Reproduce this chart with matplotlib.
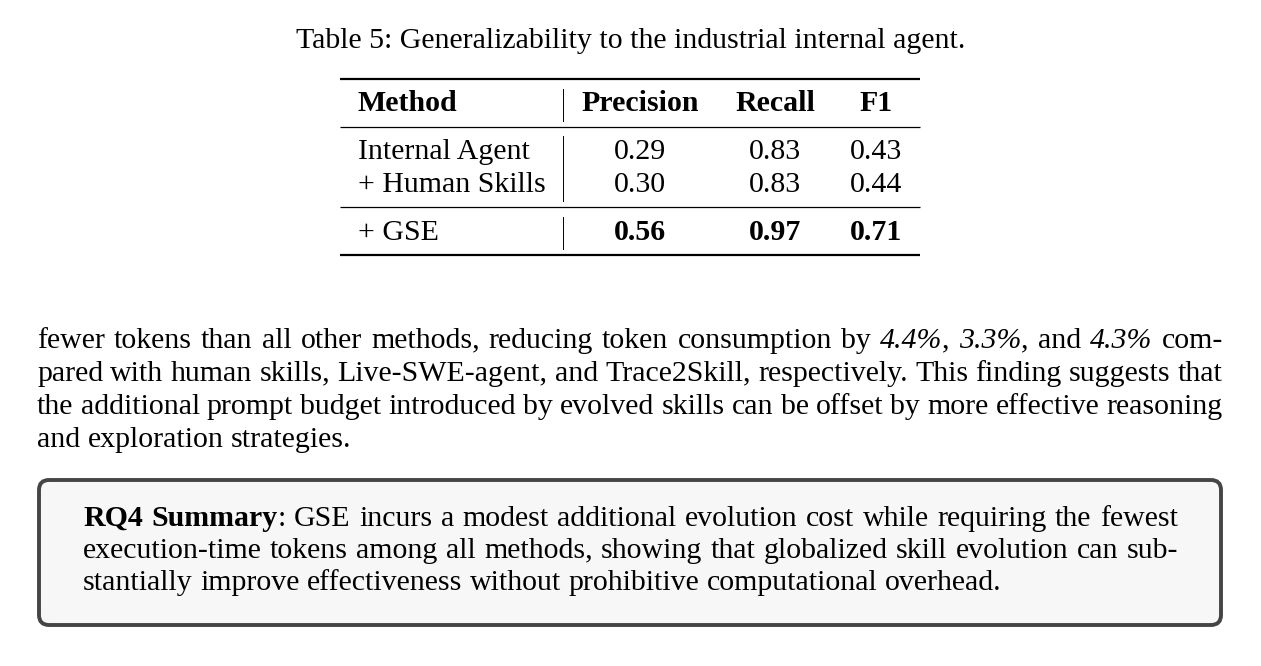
import re
import math
import matplotlib
matplotlib.use("Agg")
import matplotlib.pyplot as plt
from matplotlib.patches import FancyBboxPatch

caption = "Table 5: Generalizability to the industrial internal agent."
headers = ["Method", "Precision", "Recall", "F1"]
methods = ["Internal Agent", "+ Human Skills", "+ GSE"]
precision = ["0.29", "0.30", "0.56"]
recall = ["0.83", "0.83", "0.97"]
f1 = ["0.43", "0.44", "0.71"]
best_row = 2

paragraph = [
    "fewer tokens than all other methods, reducing token consumption by _4.4%_, _3.3%_, and _4.3%_ com-",
    "pared with human skills, Live-SWE-agent, and Trace2Skill, respectively. This finding suggests that",
    "the additional prompt budget introduced by evolved skills can be offset by more effective reasoning",
    "and exploration strategies.",
]
summary = [
    "**RQ4** **Summary**: GSE incurs a modest additional evolution cost while requiring the fewest",
    "execution-time tokens among all methods, showing that globalized skill evolution can sub-",
    "stantially improve effectiveness without prohibitive computational overhead.",
]

FONT = "Liberation Serif"
FS = 21.5

fig = plt.figure(figsize=(12.61, 6.66), dpi=100)
ax = fig.add_axes([0, 0, 1, 1])
ax.set_xlim(0, 1261)
ax.set_ylim(666, 0)
ax.axis("off")
renderer = fig.canvas.get_renderer()


def put(x, y, s, style="normal", ha="left", weight=None):
    # text on a baseline, nudged so every piece lands on the same pixel row
    kw = dict(family=FONT, fontsize=FS, va="baseline", ha=ha, color="black")
    if style == "bold" or weight == "bold":
        kw["weight"] = "bold"
    if style == "italic":
        kw["style"] = "italic"
    t = ax.text(x, y, s, **kw)
    w, h, d = renderer.get_text_width_height_descent(s, t.get_fontproperties(), ismath=False)
    t.set_y(round(y) + math.floor(h) - math.floor(h - d) - d)
    return t


def parse_word(word):
    segs = []
    for m in re.finditer(r"\*\*(.+?)\*\*|_(.+?)_|([^*_]+)", word):
        if m.group(1):
            segs.append((m.group(1), "bold"))
        elif m.group(2):
            segs.append((m.group(2), "italic"))
        else:
            segs.append((m.group(3), "normal"))
    return segs


def draw_line(line, x0, x1, y, justify=True):
    words = []
    total = 0
    for w in line.split(" "):
        items = []
        wd = 0
        for s, st in parse_word(w):
            t = put(0, y, s, st)
            tw = t.get_window_extent(renderer).width
            items.append((t, tw))
            wd += tw
        words.append((items, wd))
        total += wd
    space = put(0, y, " ")
    sp = space.get_window_extent(renderer).width
    space.remove()
    if justify and len(words) > 1:
        sp = (x1 - x0 - total) / (len(words) - 1)
    x = x0
    for items, wd in words:
        for t, tw in items:
            t.set_x(x)
            x += tw
        x += sp


# caption
put(630.5, 48, caption, ha="center")

# table rules
tx0, tx1 = 340, 920
for yy, lw in [(79, 1.6), (127, 0.9), (207, 0.9), (255, 1.6)]:
    ax.plot([tx0, tx1], [yy, yy], color="black", lw=lw, solid_capstyle="butt")
for ya, yb in [(89, 121), (136, 201), (217, 249)]:
    ax.plot([563, 563], [ya, yb], color="black", lw=0.7)

col_x = [358, 640, 775, 876]
put(col_x[0], 111, headers[0], "bold")
for cx, h in zip(col_x[1:], headers[1:]):
    put(cx, 111, h, "bold", ha="center")

row_y = [159, 192, 240]
for i, y in enumerate(row_y):
    wt = "bold" if i == best_row else None
    put(col_x[0], y, methods[i])
    for cx, v in zip(col_x[1:], [precision[i], recall[i], f1[i]]):
        put(cx, y, v, ha="center", weight=wt)

# paragraph
for i, line in enumerate(paragraph):
    draw_line(line, 37, 1223, 348 + 33 * i, justify=i < len(paragraph) - 1)

# summary box
box = FancyBboxPatch((39, 480), 1182, 145, boxstyle="round,pad=0,rounding_size=10",
                     facecolor="#f7f7f7", edgecolor="#454545", lw=2.8)
ax.add_patch(box)
for i, line in enumerate(summary):
    draw_line(line, 83, 1178, 526 + 32 * i, justify=i < len(summary) - 1)

fig.savefig("out.png", dpi=100)
